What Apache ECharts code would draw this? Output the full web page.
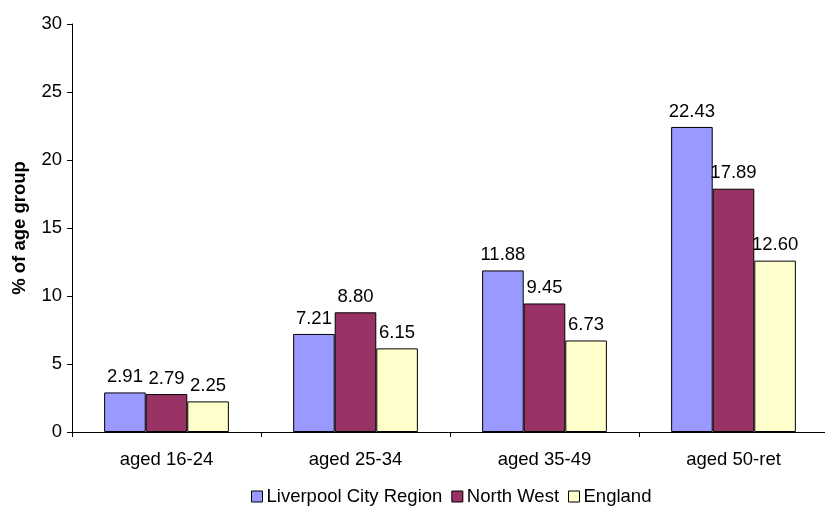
<!DOCTYPE html>
<html><head><meta charset="utf-8">
<script src="https://cdn.jsdelivr.net/npm/echarts@6/dist/echarts.min.js"></script>
<style>html,body{margin:0;padding:0;background:#fff}#c{width:825px;height:506px}</style>
</head><body><div id="c"></div>
<script>
const categories = ['aged 16-24','aged 25-34','aged 35-49','aged 50-ret'];
const seriesNames = ['Liverpool City Region','North West','England'];
const liverpool = [2.91, 7.21, 11.88, 22.43];
const northWest = [2.79, 8.80, 9.45, 17.89];
const england = [2.25, 6.15, 6.73, 12.60];
const yTicks = [0,5,10,15,20,25,30];
const colors = ['#9999FF','#993366','#FFFFCC'];
const font = 'Liberation Sans, Arial, sans-serif';
const fs = 18.5;

const chart = echarts.init(document.getElementById('c'));
const mk = (name, data, i) => ({
  name, type:'bar', data, barGap:'0%', barCategoryGap:'34%',
  itemStyle:{color:colors[i], borderColor:'#000', borderWidth:1},
  label:{show:true, position:'top', distance:6, formatter:p=>p.value.toFixed(2),
    color:'#000', fontFamily:font, fontSize:fs},
  emphasis:{disabled:true}
});
chart.setOption({
  animation:false,
  textStyle:{fontFamily:font},
  grid:{left:72, top:24, width:756, height:408, containLabel:false, outerBoundsMode:'none'},
  legend:{top:487, left:251, itemWidth:11, itemHeight:11, itemGap:9,
    icon:'rect', padding:0,
    itemStyle:{borderColor:'#000', borderWidth:1},
    textStyle:{fontFamily:font, fontSize:fs, color:'#000', padding:[0,0,0,-1]},
    data:seriesNames},
  xAxis:{type:'category', data:categories,
    axisLine:{lineStyle:{color:'#000'}},
    axisTick:{show:true, length:5, lineStyle:{color:'#000'}},
    axisLabel:{color:'#000', fontSize:fs, fontFamily:font, margin:18}},
  yAxis:{type:'value', min:0, max:30, interval:5,
    name:'% of age group', nameLocation:'middle', nameGap:43, nameRotate:90,
    nameTextStyle:{fontWeight:'bold', fontSize:fs, color:'#000', fontFamily:font},
    axisLine:{show:true, lineStyle:{color:'#000'}},
    axisTick:{show:true, length:5, lineStyle:{color:'#000'}},
    splitLine:{show:false},
    axisLabel:{color:'#000', fontSize:fs, fontFamily:font, margin:10,
      formatter:v=>yTicks.includes(v)?String(v):''}},
  series:[mk(seriesNames[0], liverpool, 0), mk(seriesNames[1], northWest, 1), mk(seriesNames[2], england, 2)]
});
</script></body></html>
